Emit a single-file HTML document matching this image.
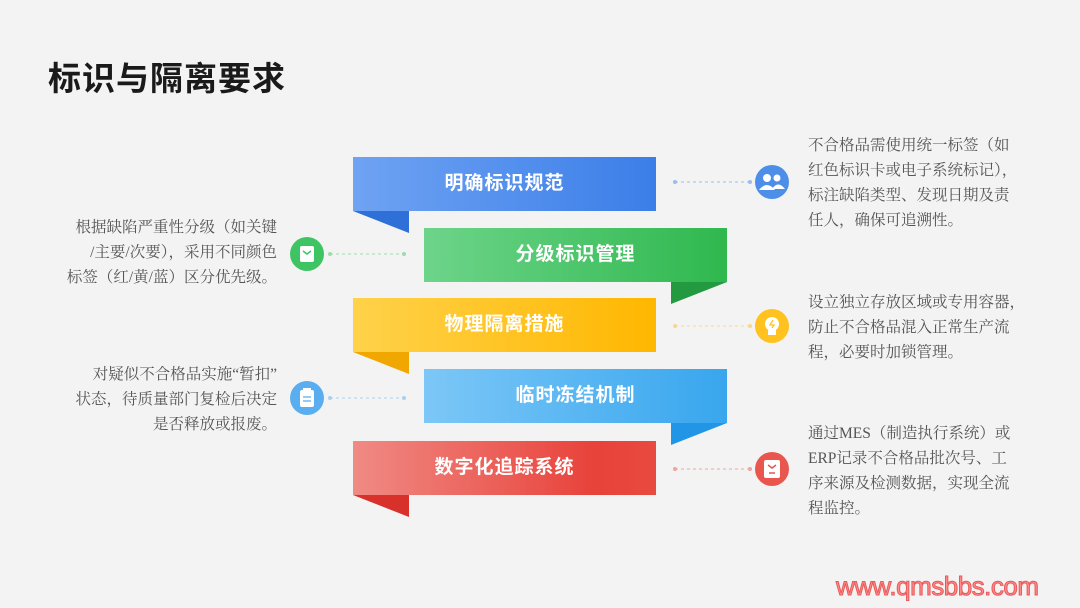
<!DOCTYPE html>
<html><head><meta charset="utf-8"><style>
body{margin:0;width:1080px;height:608px;background:#f3f3f3;position:relative;overflow:hidden;font-family:"Liberation Serif","Noto Serif CJK SC",serif}
.t{position:absolute;left:48px;top:52px;font:bold 33px "Liberation Sans","Noto Sans CJK SC",sans-serif;color:#1a1a1a;letter-spacing:1px}
.b{position:absolute;width:303px;height:54px;color:#fff;font:bold 19px "Liberation Sans","Noto Sans CJK SC",sans-serif;line-height:54px;text-align:center;letter-spacing:1px}
.tx{position:absolute;font-size:15.5px;line-height:25px;color:#555;white-space:nowrap}
.r{text-align:right}
.wm{position:absolute;left:836px;top:571px;font:26px "Liberation Sans",sans-serif;color:#ff8a8a;-webkit-text-stroke:1px #e85a5a;letter-spacing:-0.5px}
</style></head><body>
<div class="t">标识与隔离要求</div>
<svg width="1080" height="608" style="position:absolute;left:0;top:0">
<defs>
<linearGradient id="g1"><stop offset="0" stop-color="#6fa3f3"/><stop offset="1" stop-color="#3b7ee8"/></linearGradient>
<linearGradient id="g2"><stop offset="0" stop-color="#6dd48a"/><stop offset="1" stop-color="#2fb84e"/></linearGradient>
<linearGradient id="g3"><stop offset="0" stop-color="#ffd24a"/><stop offset="1" stop-color="#ffb700"/></linearGradient>
<linearGradient id="g4"><stop offset="0" stop-color="#7cc7f7"/><stop offset="1" stop-color="#38a6ee"/></linearGradient>
<linearGradient id="g5"><stop offset="0" stop-color="#f08a84"/><stop offset="0.8" stop-color="#e8423a"/><stop offset="1" stop-color="#e84a40"/></linearGradient>
</defs>
<polygon points="353,211 409,211 409,233" fill="#2f6fd8"/>
<polygon points="671,282 727,282 671,304" fill="#239a40"/>
<polygon points="353,352 409,352 409,374" fill="#f0a800"/>
<polygon points="671,423 727,423 671,445" fill="#2196e6"/>
<polygon points="353,495 409,495 409,517" fill="#d8302a"/>
<rect x="353" y="157" width="303" height="54" fill="url(#g1)"/>
<rect x="424" y="228" width="303" height="54" fill="url(#g2)"/>
<rect x="353" y="298" width="303" height="54" fill="url(#g3)"/>
<rect x="424" y="369" width="303" height="54" fill="url(#g4)"/>
<rect x="353" y="441" width="303" height="54" fill="url(#g5)"/>
<g stroke-width="1" stroke-dasharray="3,3">
<line x1="675" y1="182" x2="750" y2="182" stroke="#9bbcf0"/>
<line x1="330" y1="254" x2="404" y2="254" stroke="#9ddcae"/>
<line x1="675" y1="326" x2="750" y2="326" stroke="#f7d88a"/>
<line x1="330" y1="398" x2="404" y2="398" stroke="#a8d2f2"/>
<line x1="675" y1="469" x2="750" y2="469" stroke="#f0a4a0"/>
</g>
<g>
<circle cx="675" cy="182" r="2" fill="#9bbcf0"/><circle cx="750" cy="182" r="2" fill="#9bbcf0"/>
<circle cx="330" cy="254" r="2" fill="#9ddcae"/><circle cx="404" cy="254" r="2" fill="#9ddcae"/>
<circle cx="675" cy="326" r="2" fill="#f7d88a"/><circle cx="750" cy="326" r="2" fill="#f7d88a"/>
<circle cx="330" cy="398" r="2" fill="#a8d2f2"/><circle cx="404" cy="398" r="2" fill="#a8d2f2"/>
<circle cx="675" cy="469" r="2" fill="#f0a4a0"/><circle cx="750" cy="469" r="2" fill="#f0a4a0"/>
</g>
<circle cx="772" cy="182" r="17" fill="#4d8ee8"/>
<circle cx="767" cy="178" r="4" fill="#fff"/><path d="M759 190 q8-10 16 0z" fill="#fff"/>
<circle cx="777" cy="178" r="3.5" fill="#fff"/><path d="M772 189 q6-9 13 0z" fill="#fff"/>
<circle cx="307" cy="254" r="17" fill="#3fc463"/>
<rect x="300" y="246" width="14" height="16" rx="2" fill="#fff"/><path d="M303 251 l4 3 4-3" stroke="#3fc463" stroke-width="1.5" fill="none"/>
<circle cx="772" cy="326" r="17" fill="#ffc21f"/>
<circle cx="772" cy="324" r="7" fill="#fff"/><rect x="768" y="330" width="8" height="5" fill="#fff"/><path d="M773 320 l-3 5 h4 l-2 3" stroke="#ffc21f" stroke-width="1.3" fill="none"/>
<circle cx="307" cy="398" r="17" fill="#5aaeef"/>
<rect x="300" y="390" width="14" height="17" rx="2" fill="#fff"/><rect x="303" y="388" width="8" height="4" fill="#fff"/>
<g stroke="#5aaeef" stroke-width="1.3"><line x1="303" y1="397" x2="311" y2="397"/><line x1="303" y1="401" x2="311" y2="401"/></g>
<circle cx="772" cy="469" r="17" fill="#e8564e"/>
<rect x="764" y="460" width="16" height="18" rx="2" fill="#fff"/><path d="M768 465 l4 3 4-3" stroke="#e8564e" stroke-width="1.5" fill="none"/><line x1="769" y1="473" x2="775" y2="473" stroke="#e8564e" stroke-width="1.5"/>
</svg>
<div class="b" style="left:353px;top:157px">明确标识规范</div>
<div class="b" style="left:424px;top:228px">分级标识管理</div>
<div class="b" style="left:353px;top:298px">物理隔离措施</div>
<div class="b" style="left:424px;top:369px">临时冻结机制</div>
<div class="b" style="left:353px;top:441px">数字化追踪系统</div>
<div class="tx" style="left:808px;top:133px">不合格品需使用统一标签（如<br>红色标识卡或电子系统标记），<br>标注缺陷类型、发现日期及责<br>任人，确保可追溯性。</div>
<div class="tx r" style="right:803px;top:215px">根据缺陷严重性分级（如关键<br>/主要/次要），采用不同颜色<br>标签（红/黄/蓝）区分优先级。</div>
<div class="tx" style="left:808px;top:290px">设立独立存放区域或专用容器，<br>防止不合格品混入正常生产流<br>程，必要时加锁管理。</div>
<div class="tx r" style="right:803px;top:362px">对疑似不合格品实施“暂扣”<br>状态，待质量部门复检后决定<br>是否释放或报废。</div>
<div class="tx" style="left:808px;top:421px">通过MES（制造执行系统）或<br>ERP记录不合格品批次号、工<br>序来源及检测数据，实现全流<br>程监控。</div>
<div class="wm">www.qmsbbs.com</div>
</body></html>
